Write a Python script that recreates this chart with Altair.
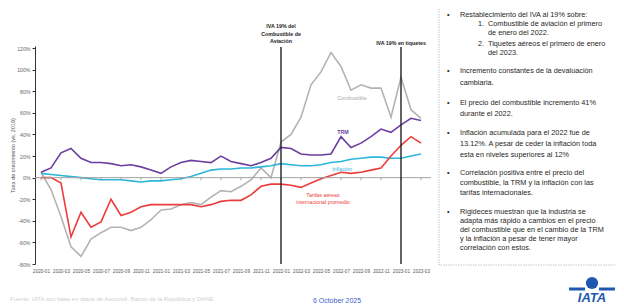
import altair as alt
import pandas as pd

# ---------------- data ----------------
months = [f"{y}-{m:02d}" for y in (2020, 2021, 2022, 2023) for m in range(1, 13)][:39]

combustible = [5, -11, -36, -64, -73, -57, -51, -46, -46, -49,
               -46, -39, -30, -29, -25, -23, -25, -18, -12, -13,
               -8, -2, 9, 0, 33, 40, 56, 86, 98, 116,
               103, 81, 86, 83, 83, 56, 93, 63, 55]
inflacion = [4, 3, 2, 1, 0, -1, -2, -2, -2, -3,
             -4, -3, -3, -2, -1, 1, 4, 7, 8, 8,
             9, 9, 10, 11, 13, 12, 11, 11, 12, 14,
             15, 17, 18, 19, 19, 18, 18, 20, 22]
trm = [5, 9, 23, 27, 18, 14, 14, 13, 11, 12,
       10, 7, 4, 10, 14, 16, 15, 14, 20, 15,
       13, 11, 14, 18, 28, 27, 22, 21, 21, 22,
       38, 28, 32, 38, 45, 42, 49, 55, 53]
tarifas = [0, 0, -5, -55, -32, -46, -41, -20, -35, -32,
           -27, -25, -25, -25, -25, -25, -27, -25, -22, -21,
           -21, -16, -8, -6, -6, -7, -9, -5, -1, 2,
           5, 4, 5, 7, 9, 20, 30, 38, 32]

series_names = ["Combustible", "Inflación", "TRM", "Tarifas aéreas internacional promedio"]
series_values = [combustible, inflacion, trm, tarifas]
series_colors = ["#b3b3b3", "#2cb6da", "#6a3fa0", "#ee3b3b"]

y_ticks = [-80, -60, -40, -20, 0, 20, 40, 60, 80, 100, 120]
x_ticks = list(range(0, 39, 2))
event_months = [24, 36]  # 2022-01, 2023-01

box_lines = [
    ("•", "b", 15), ("Restablecimiento del IVA al 19% sobre:", "t", 15),
    ("1.", "n", 24), ("Combustible de aviación el primero", "s", 24),
    ("de enero del 2022.", "s", 33),
    ("2.", "n", 44), ("Tiquetes aéreos el primero de enero", "s", 44),
    ("del 2023.", "s", 53),
    ("•", "b", 71), ("Incremento constantes de la devaluación", "t", 71),
    ("cambiaria.", "t", 83),
    ("•", "b", 103), (" El precio del combustible incremento 41%", "t", 103),
    ("durante el 2022.", "t", 114),
    ("•", "b", 133), ("Inflación acumulada para el 2022 fue de", "t", 133),
    ("13.12%. A pesar de ceder la inflación toda", "t", 144),
    ("esta en niveles superiores al 12%", "t", 155),
    ("•", "b", 173), ("Correlación positiva entre el precio del", "t", 173),
    ("combustible, la TRM y la inflación con las", "t", 183),
    ("tarifas internacionales.", "t", 193),
    ("•", "b", 212), ("Rigideces muestran que la industria se", "t", 212),
    ("adapta más rápido a cambios en el precio", "t", 221),
    ("del combustible que en el cambio de la TRM", "t", 230),
    ("y la inflación a pesar de tener mayor", "t", 239),
    ("correlación con estos.", "t", 248),
]

# ---------------- frames ----------------
rows = []
for name, vals in zip(series_names, series_values):
    for i, (mes, v) in enumerate(zip(months, vals)):
        rows.append({"m": i, "mes": mes, "serie": name, "valor": v})
df = pd.DataFrame(rows)
dummy = pd.DataFrame({"a": [0]})
ev_df = pd.DataFrame({"m": event_months})
tick_df = pd.DataFrame({"m": x_ticks, "valor": [0] * len(x_ticks), "v2": [-2.5] * len(x_ticks)})

FONT = "Liberation Sans"
OX, OY = 35, 46  # page position of plot origin


def px(x):
    return x - OX


def py(y):
    return y - OY


x_scale = alt.Scale(domain=[-0.6, 39], nice=False, zero=False)
y_scale = alt.Scale(domain=[-80, 122], nice=False, zero=False)

label_expr = ("'' + (2020 + floor(datum.value / 12)) + '-' + "
              "((datum.value % 12) < 9 ? '0' : '') + ((datum.value % 12) + 1)")

x_axis = alt.Axis(values=x_ticks, labelExpr=label_expr, title=None)
y_axis = alt.Axis(values=y_ticks, labelExpr="datum.value + '%'",
                  title="Tasa de crecimiento (vs. 2019)")


def X():
    return alt.X("m:Q", scale=x_scale, axis=x_axis)


def Y(field="valor:Q"):
    return alt.Y(field, scale=y_scale, axis=y_axis)


layers = []

# text box
layers.append(alt.Chart(dummy).mark_rect(fill="white", stroke="#b5b5b5", strokeWidth=0.8,
                                         strokeDash=[1.5, 1]).encode(
    x=alt.value(px(439)), x2=alt.value(px(622)), y=alt.value(py(3)), y2=alt.value(py(265))))

# series lines
for name, col in zip(series_names, series_colors):
    sub = df[df["serie"] == name]
    layers.append(alt.Chart(sub).mark_line(color=col, strokeWidth=1.6).encode(x=X(), y=Y()))

# zero line + its ticks
layers.append(alt.Chart(tick_df.iloc[:1]).mark_rule(color="#a0a0a0", strokeWidth=1).encode(
    x=alt.value(0), x2=alt.value(396), y=Y()))
layers.append(alt.Chart(tick_df).mark_rule(color="#888", strokeWidth=0.7).encode(
    x=X(), y=Y(), y2="v2:Q"))

# event lines
layers.append(alt.Chart(ev_df).mark_rule(color="#222", strokeWidth=1.4).encode(
    x=X(), y=alt.value(py(47)), y2=alt.value(py(264))))

# event annotations
layers.append(alt.Chart(ev_df.iloc[:1]).mark_text(fontSize=5.3, fontWeight="bold", font=FONT, color="#222",
                                                  lineBreak="\n", lineHeight=7.5, baseline="top").encode(
    x=X(), y=alt.value(py(24)),
    text=alt.value("IVA 19% del\nCombustible de\nAviación")))
layers.append(alt.Chart(ev_df.iloc[1:]).mark_text(fontSize=5.3, fontWeight="bold", font=FONT, color="#222",
                                                  baseline="middle").encode(
    x=X(), y=alt.value(py(43)),
    text=alt.value("IVA 19% en tiquetes")))

# series labels
labels = [
    ("Combustible", 31.1, 74, "#a8a8a8", "normal"),
    ("TRM", 30.2, 42, "#6a3fa0", "bold"),
    ("Inflación", 30.1, 8, "#2cb6da", "normal"),
    ("Tarifas aéreas", 28.2, -16, "#ee3b3b", "normal"),
    ("internacional promedio", 28.2, -22.5, "#ee3b3b", "normal"),
]
for txt, lx, ly, col, fw in labels:
    ldf = pd.DataFrame({"m": [lx], "valor": [ly], "t": [txt]})
    layers.append(alt.Chart(ldf).mark_text(fontSize=5.3, font=FONT, color=col, fontWeight=fw).encode(
        x=X(), y=Y(), text="t:N"))

# box text
x_pos = {"b": 447, "t": 460, "n": 478, "s": 488}
for txt, kind, yy in box_lines:
    layers.append(alt.Chart(dummy).mark_text(fontSize=7.3, font=FONT, color="#262626", align="left",
                                             baseline="middle").encode(
        x=alt.value(px(x_pos[kind])), y=alt.value(py(yy)), text=alt.value(txt)))

# footer texts
layers.append(alt.Chart(dummy).mark_text(fontSize=6, font=FONT, color="#cfcfcf", align="left",
                                         baseline="middle").encode(
    x=alt.value(px(10)), y=alt.value(py(299)),
    text=alt.value("Fuente: IATA con base en datos de Aerocivil, Banco de la República y DANE")))
layers.append(alt.Chart(dummy).mark_text(fontSize=7, font=FONT, color="#3a5fcd", align="center",
                                         baseline="middle").encode(
    x=alt.value(px(337)), y=alt.value(py(301)), text=alt.value("6 October 2025")))

# IATA logo (bottom right)
LOGO_BLUE = "#1f57b0"
layers.append(alt.Chart(dummy).mark_point(filled=True, shape="circle", size=150, color=LOGO_BLUE,
                                          opacity=1).encode(
    x=alt.value(px(592)), y=alt.value(py(283))))
layers.append(alt.Chart(dummy).mark_rule(color=LOGO_BLUE, strokeWidth=3).encode(
    x=alt.value(px(569)), x2=alt.value(px(585)), y=alt.value(py(289))))
layers.append(alt.Chart(dummy).mark_rule(color=LOGO_BLUE, strokeWidth=3).encode(
    x=alt.value(px(599)), x2=alt.value(px(615)), y=alt.value(py(289))))
layers.append(alt.Chart(dummy).mark_text(fontSize=13, font=FONT, color=LOGO_BLUE, fontWeight="bold",
                                         fontStyle="italic", baseline="middle").encode(
    x=alt.value(px(592)), y=alt.value(py(298)), text=alt.value("IATA")))

chart = alt.layer(*layers).properties(
    width=396, height=218,
    autosize=alt.AutoSizeParams(type="none"),
    padding={"left": 27, "top": 38, "right": 185, "bottom": 41},
    background="white",
).configure_view(stroke=None).configure_axisX(
    domain=False, ticks=False, grid=False, labelFontSize=4.6, labelColor="#555",
    labelPadding=4, labelOverlap=False, labelFlush=False, labelFont=FONT, labelBound=False,
).configure_axisY(
    titleFontSize=5.5, titleFontWeight="normal", titleColor="#555", titlePadding=1,
    titleFont=FONT, labelFont=FONT, labelOverlap=False, grid=False, domainColor="#333",
    tickColor="#333", tickSize=3, labelFontSize=5.2, labelColor="#666", labelPadding=2,
)

chart.save("out.html", embed_options={"renderer": "svg", "actions": False})
